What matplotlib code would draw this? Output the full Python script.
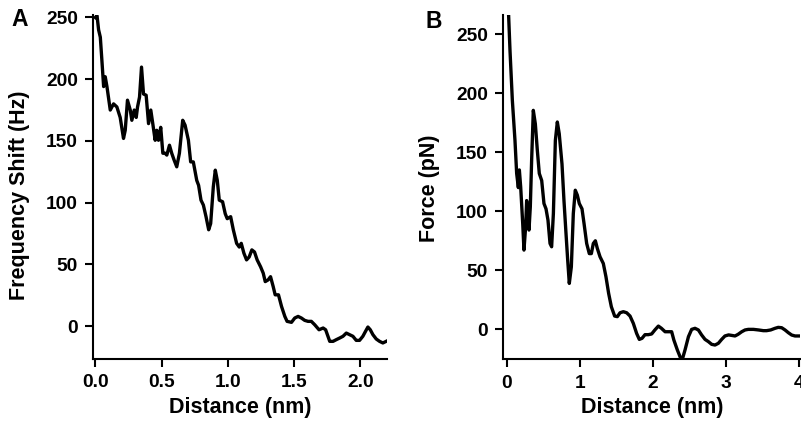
import matplotlib
matplotlib.use("Agg")
import matplotlib.pyplot as plt

plt.rcParams['font.family'] = ['Liberation Sans', 'DejaVu Sans']
plt.rcParams['font.weight'] = 'bold'

# Panel A: frequency shift vs distance
dist_a = [0.0, 0.013, 0.025, 0.038, 0.05, 0.063, 0.075, 0.088, 0.113, 0.138, 0.163, 0.188,
          0.213, 0.226, 0.243, 0.264, 0.276, 0.294, 0.309, 0.319, 0.334, 0.349, 0.364, 0.384,
          0.402, 0.419, 0.434, 0.452, 0.464, 0.477, 0.494, 0.51, 0.527, 0.54, 0.56, 0.577,
          0.595, 0.615, 0.635, 0.66, 0.678, 0.703, 0.72, 0.74, 0.766, 0.78, 0.798, 0.816,
          0.836, 0.856, 0.871, 0.891, 0.906, 0.921, 0.936, 0.961, 0.981, 0.996, 1.022, 1.042,
          1.067, 1.087, 1.102, 1.122, 1.142, 1.162, 1.182, 1.202, 1.222, 1.248, 1.268, 1.283,
          1.305, 1.323, 1.343, 1.358, 1.383, 1.406, 1.431, 1.448, 1.481, 1.506, 1.531, 1.556,
          1.581, 1.606, 1.631, 1.657, 1.689, 1.72, 1.739, 1.77, 1.795, 1.82, 1.845, 1.87,
          1.895, 1.92, 1.945, 1.97, 1.995, 2.02, 2.04, 2.058, 2.076, 2.096, 2.121, 2.146,
          2.171, 2.196]
freq_shift = [250, 251.5, 240, 234, 215, 194, 202, 194, 175, 180, 177.5, 169,
              152, 158.6, 183, 175, 166.7, 175, 169, 177.5, 185.5, 209.8, 188, 187,
              164, 175, 164, 150.5, 158.6, 150.5, 161, 140, 140, 138.5, 146.5, 140,
              134.5, 129, 140, 166.7, 162.7, 150.5, 133, 133, 118, 114, 102, 98,
              88.6, 78, 83, 112.8, 126.3, 118, 102, 100.7, 91, 87, 88.6, 78,
              67, 64, 67, 59, 53.6, 56, 61.7, 60, 53.6, 48, 42.8, 36,
              37.4, 40, 32, 25.3, 25.3, 15.9, 7.8, 3.8, 3, 6.5, 7.8, 6.5,
              4.6, 3.8, 3.8, 1, -3, -1.6, -3, -12.4, -12.4, -11, -9.7, -8.3,
              -5.7, -7, -8.3, -11.6, -11.6, -8.3, -4.3, -0.8, -3, -7, -10.5, -12.4,
              -13.7, -12.4]

# Panel B: force vs distance
dist_b = [0.005, 0.027, 0.046, 0.078, 0.114, 0.137, 0.16, 0.174, 0.192, 0.22, 0.237, 0.26,
          0.274, 0.292, 0.306, 0.324, 0.342, 0.365, 0.393, 0.42, 0.447, 0.48, 0.511, 0.539,
          0.566, 0.594, 0.616, 0.64, 0.667, 0.694, 0.72, 0.758, 0.785, 0.813, 0.836, 0.858,
          0.886, 0.913, 0.94, 0.968, 0.995, 1.032, 1.06, 1.096, 1.132, 1.16, 1.187, 1.215,
          1.242, 1.279, 1.324, 1.36, 1.397, 1.434, 1.479, 1.516, 1.553, 1.598, 1.644, 1.69,
          1.735, 1.78, 1.817, 1.854, 1.895, 1.94, 1.986, 2.03, 2.078, 2.12, 2.17, 2.215,
          2.26, 2.29, 2.338, 2.384, 2.41, 2.443, 2.49, 2.534, 2.58, 2.626, 2.67, 2.717,
          2.763, 2.808, 2.854, 2.9, 2.945, 2.99, 3.04, 3.08, 3.128, 3.17, 3.22, 3.265,
          3.31, 3.38, 3.45, 3.516, 3.56, 3.616, 3.676, 3.72, 3.767, 3.813, 3.858, 3.904,
          3.95, 4.01]
force = [300, 266, 236, 194, 160, 132, 120, 135, 120.6, 89.5, 67, 86.7,
         109, 95, 84, 103.7, 143, 185.6, 174, 151.7, 132, 126, 106.5, 102,
         92.4, 72.6, 69.8, 98, 160, 175.7, 165.8, 140, 109, 81, 58.5, 38.7,
         52.8, 98, 117.8, 113.6, 106.5, 102, 89.5, 72.6, 64, 64, 72.6, 74.9,
         68.4, 61.3, 55.6, 44.4, 30.2, 18.9, 11, 10.5, 13.8, 14.7, 13.8, 11,
         4.8, -3.7, -8.8, -7.9, -4.8, -4.8, -4.2, -0.8, 2.5, 0.6, -2.3, -2.3,
         -2.3, -9.3, -17.8, -24.9, -24.9, -17.8, -6.5, -0.3, 0.6, -0.8, -5, -8.8,
         -10.7, -13, -13.6, -12.1, -8.8, -5.9, -5, -5.4, -5.9, -4.5, -2.3, -0.8,
         -0.3, -0.3, -0.8, -1.4, -1.4, -0.8, 0.6, 1.4, 1.1, -0.8, -3.1, -5.1,
         -5.9, -5.9]

xticks_a = [0.0, 0.5, 1.0, 1.5, 2.0]
xticklabels_a = ['0.0', '0.5', '1.0', '1.5', '2.0']
xticks_b = [0, 1, 2, 3, 4]
xticklabels_b = ['0', '1', '2', '3', '4']
yticks = [0, 50, 100, 150, 200, 250]
yticklabels = ['0', '50', '100', '150', '200', '250']

W, H = 801, 428
fig = plt.figure(figsize=(W / 100, H / 100), dpi=100)

def px_axes(left, right, top, bottom):
    return fig.add_axes([left / W, 1 - bottom / H, (right - left) / W, (bottom - top) / H])

ax_a = px_axes(93.3, 386.7, 15, 359)
ax_b = px_axes(503.3, 800, 15, 359.3)

def style(ax):
    for s in ['top', 'right']:
        ax.spines[s].set_visible(False)
    for s in ['left', 'bottom']:
        ax.spines[s].set_linewidth(1.5)
        ax.spines[s].set_color('black')
    ax.tick_params(axis='both', direction='out', length=6, width=1.5,
                   labelsize=13.8, pad=5, colors='black')
    for lab in ax.get_xticklabels() + ax.get_yticklabels():
        lab.set_fontweight('bold')

ax_a.plot(dist_a, freq_shift, color='black', lw=2.4, solid_joinstyle='round')
ax_a.set_xlim(-0.015, 2.2)
ax_a.set_ylim(-26.7, 252)
ax_a.set_xticks(xticks_a)
ax_a.set_xticklabels(xticklabels_a)
ax_a.set_yticks(yticks)
ax_a.set_yticklabels(yticklabels)
style(ax_a)

ax_b.plot(dist_b, force, color='black', lw=2.4, solid_joinstyle='round')
ax_b.set_xlim(-0.046, 4.018)
ax_b.set_ylim(-25.7, 266.5)
ax_b.set_xticks(xticks_b)
ax_b.set_xticklabels(xticklabels_b)
ax_b.set_yticks(yticks)
ax_b.set_yticklabels(yticklabels)
style(ax_b)

def ftext(x, y, s, **kw):
    fig.text(x / W, 1 - y / H, s, ha='center', va='center', fontweight='bold', **kw)

ftext(20, 195, 'Frequency Shift (Hz)', rotation=90, fontsize=15.5)
ftext(430, 188, 'Force (pN)', rotation=90, fontsize=15.5)
ftext(240, 407, 'Distance (nm)', fontsize=15.5)
ftext(652.5, 407, 'Distance (nm)', fontsize=15.5)
ftext(20, 19, 'A', fontsize=16.5)
ftext(433.5, 21, 'B', fontsize=16.5)

fig.savefig('out.png', dpi=100, facecolor='white')
